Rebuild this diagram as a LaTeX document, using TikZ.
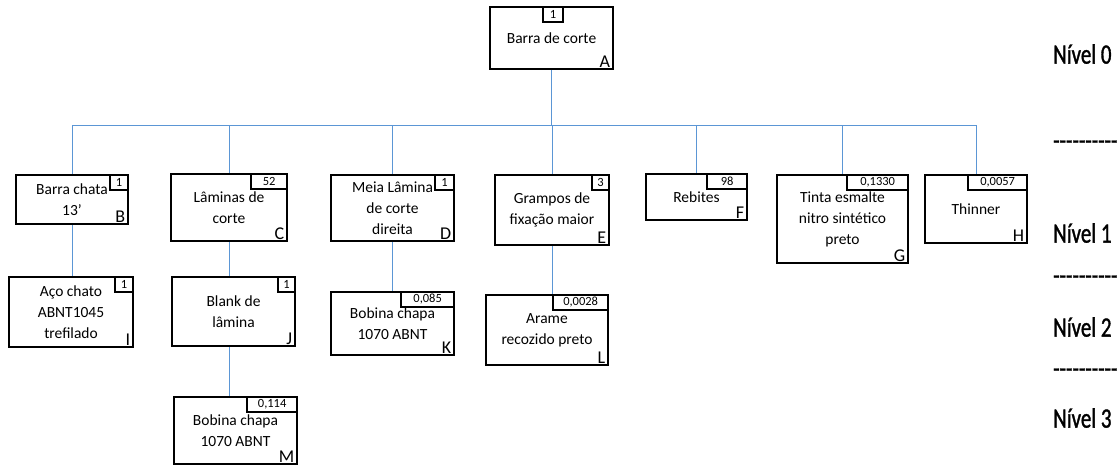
\documentclass[tikz,border=0pt]{standalone}
\usepackage{fontspec}
\setmainfont{Carlito}
\newfontfamily\levelfont[FakeStretch=0.75,FakeBold=1.2]{Carlito}
\usepackage{tikz}
\usetikzlibrary{positioning,calc}
\definecolor{linkblue}{RGB}{91,150,213}
\newcommand\dashrow{\mbox{-}\mbox{-}\mbox{-}\mbox{-}\mbox{-}\mbox{-}\mbox{-}\mbox{-}\mbox{-}\mbox{-}}
\tikzset{
  item/.style={draw,line width=2.7pt,align=center,inner sep=2pt,
              font=\fontsize{15.5}{21}\selectfont},
  qty/.style={draw,line width=2.4pt,anchor=north east,minimum height=15,
              inner sep=1pt,font=\fontsize{12.5}{13}\selectfont},
  code/.style={anchor=south east,inner xsep=4pt,inner ysep=2.5pt,
              font=\fontsize{18}{19}\selectfont},
  link/.style={draw=linkblue,line width=1pt},
  level/.style={anchor=west,inner sep=0pt,font=\levelfont\fontsize{28}{30}\selectfont},
}

\begin{document}
\begin{tikzpicture}[x=1pt,y=-1pt]
  \useasboundingbox (0,0) rectangle (1117,466);
  % Level 0
  \node[item,minimum width=123,minimum height=62] (A) at (551.5,38) {Barra de corte};
  \node[qty,anchor=north,minimum width=20] (Aq) at ([xshift=1.5]A.north) {1};
  \node[code] (Al) at (A.south east) {A};
  % Level 1
  \node[item,minimum width=112,minimum height=49] (B) at (72,199.5) {Barra chata\\13’};
  \node[qty,minimum width=18] (Bq) at (B.north east) {1};
  \node[code] (Bl) at (B.south east) {B};
  \node[item,minimum width=116,minimum height=67] (C) at (229,207.5) {Lâminas de\\corte};
  \node[qty,minimum width=36] (Cq) at (C.north east) {52};
  \node[code] (Cl) at (C.south east) {C};
  \node[item,minimum width=123,minimum height=66] (D) at (392.5,208) {Meia Lâmina\\de corte\\direita};
  \node[qty,minimum width=19] (Dq) at (D.north east) {1};
  \node[code] (Dl) at (D.south east) {D};
  \node[item,minimum width=114,minimum height=70] (E) at (552,210) {Grampos de\\fixação maior};
  \node[qty,minimum width=17] (Eq) at (E.north east) {3};
  \node[code] (El) at (E.south east) {E};
  \node[item,minimum width=101,minimum height=46] (F) at (696.5,197) {Rebites};
  \node[qty,minimum width=40] (Fq) at (F.north east) {98};
  \node[code] (Fl) at (F.south east) {F};
  \node[item,minimum width=131,minimum height=88] (G) at (842.5,219) {Tinta esmalte\\nitro sintético\\preto};
  \node[qty,minimum width=61] (Gq) at (G.north east) {0,1330};
  \node[code] (Gl) at (G.south east) {G};
  \node[item,minimum width=102,minimum height=68] (H) at (976,209) {Thinner};
  \node[qty,minimum width=59] (Hq) at (H.north east) {0,0057};
  \node[code] (Hl) at (H.south east) {H};
  % Level 2
  \node[item,minimum width=124,minimum height=70] (I) at (71,312) {Aço chato\\ABNT1045\\trefilado};
  \node[qty,minimum width=18] (Iq) at (I.north east) {1};
  \node[code] (Il) at (I.south east) {I};
  \node[item,minimum width=123,minimum height=69] (J) at (233.5,311.5) {Blank de\\lâmina};
  \node[qty,minimum width=17] (Jq) at (J.north east) {1};
  \node[code] (Jl) at (J.south east) {J};
  \node[item,minimum width=123,minimum height=63] (K) at (392.5,323.5) {Bobina chapa\\1070 ABNT};
  \node[qty,minimum width=53] (Kq) at (K.north east) {0,085};
  \node[code] (Kl) at (K.south east) {K};
  \node[item,minimum width=122,minimum height=70] (L) at (547,330) {Arame\\recozido preto};
  \node[qty,minimum width=55] (Lq) at (L.north east) {0,0028};
  \node[code] (Ll) at (L.south east) {L};
  % Level 3
  \node[item,minimum width=123,minimum height=67] (M) at (235.5,430.5) {Bobina chapa\\1070 ABNT};
  \node[qty,minimum width=50] (Mq) at (M.north east) {0,114};
  \node[code] (Ml) at (M.south east) {M};
  % Tree links
  \coordinate (bus) at (0,125);
  \draw[link] (A.south) -- (A.south |- bus);
  \draw[link] (B.north |- bus) -- (H.north |- bus);
  \foreach \n in {B,C,D,E,F,G,H}
    \draw[link] (\n.north) -- (\n.north |- bus);
  \draw[link] (B.south) -- (B.south |- I.north);
  \draw[link] (C.south) -- (C.south |- J.north);
  \draw[link] (J.south -| C.south) -- (C.south |- M.north);
  \draw[link] (D.south) -- (D.south |- K.north);
  \draw[link] (E.south) -- (E.south |- L.north);
  % Level labels
  \node[level] (n0) at (1053,54) {Nível 0};
  \node[level] (s0) at (1053,145) {\dashrow};
  \node[level] (n1) at (1053,233) {Nível 1};
  \node[level] (s1) at (1053,280) {\dashrow};
  \node[level] (n2) at (1053,327) {Nível 2};
  \node[level] (s2) at (1053,373) {\dashrow};
  \node[level] (n3) at (1053,418) {Nível 3};
\end{tikzpicture}
\end{document}
